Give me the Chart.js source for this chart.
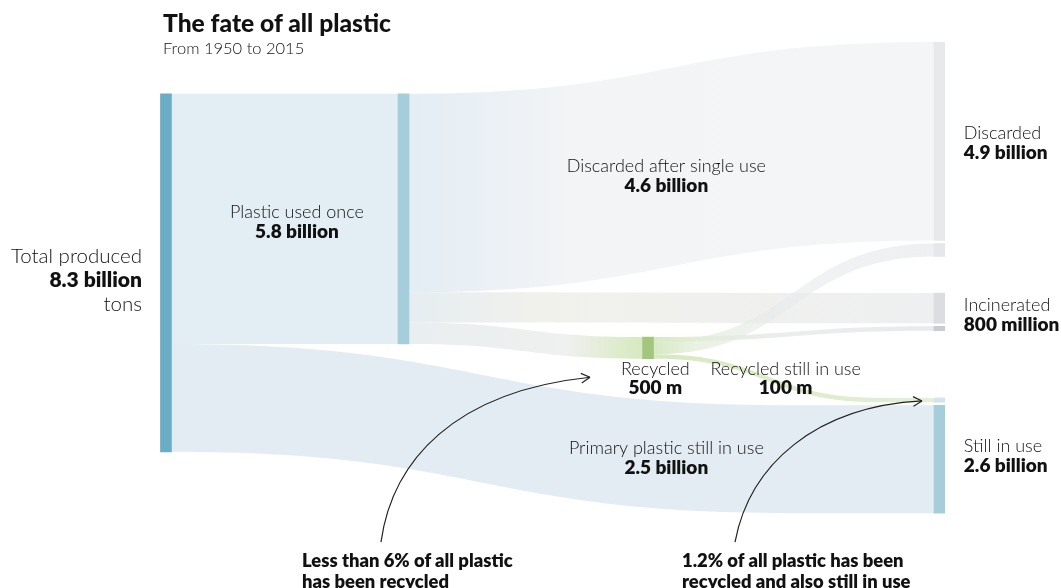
<!DOCTYPE html>
<html>
<head>
<meta charset="utf-8">
<script src="https://cdn.jsdelivr.net/npm/chart.js@4.4.0/dist/chart.umd.min.js"></script>
<style>
  html, body { margin:0; padding:0; background:#fff; }
  #wrap { position:relative; width:1061px; height:588px; overflow:hidden; font-family: Lato, "Open Sans", sans-serif; }
  #chart { position:absolute; left:0; top:0; }
  .title { position:absolute; left:163px; top:8px; font-weight:900; font-size:24.6px; line-height:30px; color:#111; }
  .sub { position:absolute; left:163px; top:37px; font-weight:300; font-size:16.5px; line-height:22px; color:#111; }
  .note { position:absolute; top:550px; font-weight:800; font-size:18.4px; line-height:21px; color:#111; white-space:nowrap; }
</style>
</head>
<body>
<div id="wrap">
  <canvas id="chart" width="1061" height="588"></canvas>
  <div class="title">The fate of all plastic</div>
  <div class="sub">From 1950 to 2015</div>
  <div class="note" style="left:302px">Less than 6% of all plastic<br>has been recycled</div>
  <div class="note" style="left:682px">1.2% of all plastic has been<br>recycled and also still in use</div>
</div>
<script>
// ---- data (billion tons, 1950-2015) ----
const nodeNames = ["Total produced", "Plastic used once", "Recycled", "Discarded", "Incinerated", "Still in use"];
const flowFrom  = [0, 0, 1, 1, 1, 2, 2, 2];
const flowTo    = [1, 5, 3, 4, 2, 4, 3, 5];
const flowValue = [5.8, 2.5, 4.6, 0.7, 0.5, 0.1, 0.3, 0.1];

const labelTitles = ["Total produced", "Plastic used once", "Discarded after single use", "Discarded",
                     "Incinerated", "Recycled", "Recycled still in use", "Primary plastic still in use", "Still in use"];
const labelValues = ["8.3 billion", "5.8 billion", "4.6 billion", "4.9 billion",
                     "800 million", "500 m", "100 m", "2.5 billion", "2.6 billion"];

// ---- layout (axis units: x 0-100 across the plot, y billion tons from the top) ----
const nodeX   = [0.76, 31.02, 62.17, 99.3, 99.3, 99.3];
const nodeTop = [1.2, 1.2, 6.84, 0, 5.82, 8.25];
const NODE_W  = 11;     // px
const GAP     = 0.07;   // gap between incoming pieces of an end node
const flowCurve = [null, [1.53, 80.25], null, null, null, null, null, [62.9, 91.7]];

const labelPos = [
  { x: -2.29, y: 4.96, align: "right",  size: 20.5, vsize: 21, lh: 24, extra: "tons" },
  { x: 17.45, y: 3.94, align: "center", size: 18, vsize: 19, lh: 20 },
  { x: 64.5,  y: 2.875, align: "center", size: 18, vsize: 19, lh: 20 },
  { x: 102.4, y: 2.11, align: "left",   size: 18, vsize: 19, lh: 20 },
  { x: 102.4, y: 6.10, align: "left",   size: 18, vsize: 19, lh: 20 },
  { x: 63.1,  y: 7.58, align: "center", size: 18, vsize: 19, lh: 19 },
  { x: 79.7,  y: 7.58, align: "center", size: 18, vsize: 19, lh: 19 },
  { x: 64.5,  y: 9.41, align: "center", size: 18, vsize: 19, lh: 20 },
  { x: 102.4, y: 9.37, align: "left",   size: 18, vsize: 19, lh: 20 }
];

// annotation arrows: start, ctrl1, ctrl2, end (axis units)
const arrows = [
  [[28.15, 11.59], [29.6, 9.7], [37.5, 8.1], [54.78, 7.77]],
  [[73.25, 11.59], [75.1, 9.8], [83.5, 8.45], [97.07, 8.32]]
];

// ---- styles ----
const nodeColor = ["#6aadc4", "#a6cdda", "#a3c67f", "#e8e9eb", "#dcdde0", "#a6cdda"];
const pieceColor = [null, "#a6cdda", "#e8e9eb", "#dcdde0", null, "#c8cbd0", "#e6e7ea", "#d2e5ed"];
const flowGrad = [
  [[0, "#e3edf4"], [1, "#e3edf4"]],
  [[0, "#e3ecf3"], [1, "#e3ecf3"]],
  [[0, "#e3edf4"], [0.3, "#f2f4f6"], [1, "#f4f5f7"]],
  [[0, "#e6edf1"], [0.25, "#f1f1ec"], [1, "#eeeff0"]],
  [[0, "#e9eef0"], [0.68, "#eff0ef"], [0.92, "#dcebc9"], [1, "#d6e9c2"]],
  [[0, "#d6e9c2"], [0.2, "rgba(225,236,214,0.85)"], [0.5, "rgba(230,232,235,0.8)"], [1, "rgba(228,230,233,0.85)"]],
  [[0, "#d6e9c2"], [0.15, "rgba(225,236,214,0.7)"], [0.45, "rgba(232,234,237,0.6)"], [1, "rgba(232,234,237,0.75)"]],
  [[0, "#d6e9c2"], [0.4, "#dcebc8"], [1, "#e4efd8"]]
];
const flowOrder = [0, 1, 2, 3, 4, 7, 5, 6];

// ---- stack flows on the nodes ----
const isSink = n => !flowFrom.includes(n);
const pos = flowValue.map(() => ({}));
const outOff = nodeTop.slice(), inOff = nodeTop.slice();
flowFrom.forEach((s, i) => { pos[i].s0 = outOff[s]; outOff[s] += flowValue[i]; pos[i].s1 = outOff[s]; });
flowValue.map((_, i) => i)
  .sort((a, b) => (pos[a].s0 + pos[a].s1) - (pos[b].s0 + pos[b].s1))
  .forEach(i => {
    const t = flowTo[i];
    pos[i].t0 = inOff[t]; inOff[t] += flowValue[i]; pos[i].t1 = inOff[t];
    if (isSink(t)) inOff[t] += GAP;
  });

// node bars (floating bars), end nodes split into their incoming pieces
const barData = [], barColors = [];
nodeNames.forEach((name, n) => {
  if (isSink(n)) {
    flowTo.forEach((t, i) => {
      if (t !== n) return;
      barData.push({ x: nodeX[n], y: [pos[i].t0, pos[i].t1] });
      barColors.push(pieceColor[i] || nodeColor[n]);
    });
  } else {
    const inSum = flowTo.reduce((a, t, i) => a + (t === n ? flowValue[i] : 0), 0);
    const outSum = flowFrom.reduce((a, s, i) => a + (s === n ? flowValue[i] : 0), 0);
    barData.push({ x: nodeX[n], y: [nodeTop[n], nodeTop[n] + Math.max(inSum, outSum)] });
    barColors.push(nodeColor[n]);
  }
});

const FONT = 'Lato, "Open Sans", sans-serif';

const flowPlugin = {
  id: "flows",
  beforeDatasetsDraw(chart) {
    const { ctx, scales: { x, y } } = chart;
    ctx.save();
    flowOrder.forEach(i => {
      const x0 = x.getPixelForValue(nodeX[flowFrom[i]]) + NODE_W / 2;
      const x1 = x.getPixelForValue(nodeX[flowTo[i]]) - NODE_W / 2;
      const c = flowCurve[i];
      const cx0 = c ? x.getPixelForValue(c[0]) : x0;
      const cx1 = c ? x.getPixelForValue(c[1]) : x1;
      const xm = (cx0 + cx1) / 2;
      const ys0 = y.getPixelForValue(pos[i].s0), ys1 = y.getPixelForValue(pos[i].s1);
      const yt0 = y.getPixelForValue(pos[i].t0), yt1 = y.getPixelForValue(pos[i].t1);
      const g = ctx.createLinearGradient(x0, 0, x1, 0);
      flowGrad[i].forEach(([st, col]) => g.addColorStop(st, col));
      ctx.fillStyle = g;
      ctx.beginPath();
      ctx.moveTo(x0, ys0);
      ctx.lineTo(cx0, ys0);
      ctx.bezierCurveTo(xm, ys0, xm, yt0, cx1, yt0);
      ctx.lineTo(x1, yt0);
      ctx.lineTo(x1, yt1);
      ctx.lineTo(cx1, yt1);
      ctx.bezierCurveTo(xm, yt1, xm, ys1, cx0, ys1);
      ctx.lineTo(x0, ys1);
      ctx.closePath();
      ctx.fill();
    });
    ctx.restore();
  },
  afterDatasetsDraw(chart) {
    const { ctx, scales: { x, y } } = chart;
    ctx.save();
    ctx.textBaseline = "middle";
    labelPos.forEach((p, i) => {
      const px = x.getPixelForValue(p.x), py = y.getPixelForValue(p.y);
      ctx.textAlign = p.align;
      ctx.fillStyle = "#111";
      ctx.font = `300 ${p.size}px ${FONT}`;
      ctx.fillText(labelTitles[i], px, py);
      ctx.font = `800 ${p.vsize}px ${FONT}`;
      ctx.fillText(labelValues[i], px, py + p.lh);
      if (p.extra) {
        ctx.font = `300 ${p.size}px ${FONT}`;
        ctx.fillText(p.extra, px, py + 2 * p.lh);
      }
    });
    // annotation arrows
    ctx.strokeStyle = "#222";
    ctx.lineWidth = 1.2;
    arrows.forEach(a => {
      const pts = a.map(([u, v]) => [x.getPixelForValue(u), y.getPixelForValue(v)]);
      ctx.beginPath();
      ctx.moveTo(pts[0][0], pts[0][1]);
      ctx.bezierCurveTo(pts[1][0], pts[1][1], pts[2][0], pts[2][1], pts[3][0], pts[3][1]);
      ctx.stroke();
      const ang = Math.atan2(pts[3][1] - pts[2][1], pts[3][0] - pts[2][0]);
      ctx.beginPath();
      [-0.5, 0.5].forEach(d => {
        ctx.moveTo(pts[3][0], pts[3][1]);
        ctx.lineTo(pts[3][0] - 10 * Math.cos(ang + d), pts[3][1] - 10 * Math.sin(ang + d));
      });
      ctx.stroke();
    });
    ctx.restore();
  }
};

new Chart(document.getElementById("chart"), {
  type: "bar",
  data: {
    datasets: [{
      label: "Nodes",
      data: barData,
      backgroundColor: barColors,
      borderWidth: 0,
      barThickness: NODE_W
    }]
  },
  options: {
    responsive: false,
    animation: false,
    events: [],
    layout: { padding: { left: 160, right: 116, top: 42, bottom: 74 } },
    scales: {
      x: { type: "linear", min: 0, max: 100, offset: false, display: false },
      y: { type: "linear", min: 0, max: 10.94, reverse: true, display: false }
    },
    plugins: { legend: { display: false }, tooltip: { enabled: false } }
  },
  plugins: [flowPlugin]
});
</script>
</body>
</html>
